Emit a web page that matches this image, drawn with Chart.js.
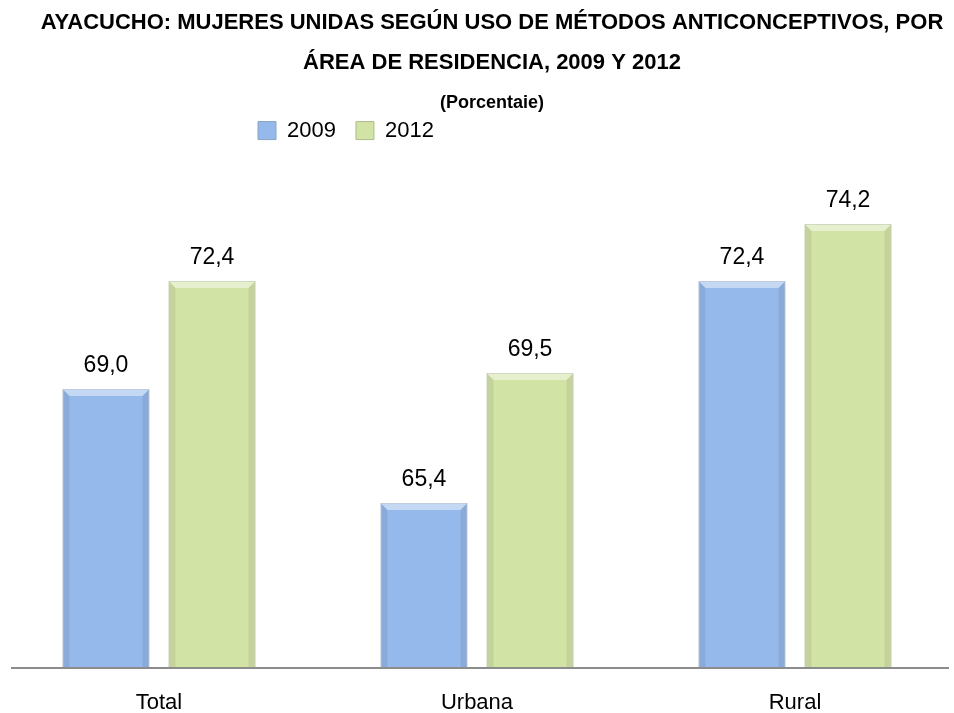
<!DOCTYPE html>
<html>
<head>
<meta charset="utf-8">
<script src="https://cdn.jsdelivr.net/npm/chart.js@4"></script>
<style>
  body { margin: 0; background: #fff; }
  #wrap { width: 954px; height: 713px; }
</style>
</head>
<body>
<div id="wrap"><canvas id="chart"></canvas></div>
<script>
const categories = ["Total", "Urbana", "Rural"];
const values2009 = [69.0, 65.4, 72.4];
const values2012 = [72.4, 69.5, 74.2];
const seriesNames = ["2009", "2012"];

// move title, subtitle and legend to where they sit in the original
const boxShift = {
  id: "boxShift",
  afterLayout(chart) {
    chart.boxes.forEach((b) => {
      if (b !== chart.legend && b.options && b.options.text !== undefined) {
        b.left += 15; b.right += 15;
      }
    });
    const l = chart.legend;
    l.left += 238; l.right += 238;
    l.top -= 14; l.bottom -= 14;
  }
};

// baseline that stops short of the edges
const baseLine = {
  id: "baseLine",
  afterDatasetsDraw(chart) {
    const c = chart.ctx, a = chart.chartArea;
    c.save();
    c.strokeStyle = "#8C8C8C";
    c.lineWidth = 2;
    c.beginPath();
    c.moveTo(11, a.bottom);
    c.lineTo(949, a.bottom);
    c.stroke();
    c.restore();
  }
};

// soft bevel on the bars
const bevel = {
  id: "bevel",
  afterDatasetsDraw(chart) {
    const c = chart.ctx, a = chart.chartArea;
    c.save();
    c.beginPath();
    c.rect(a.left, a.top, a.right - a.left, a.bottom - a.top);
    c.clip();
    chart.data.datasets.forEach((ds, i) => {
      chart.getDatasetMeta(i).data.forEach((bar) => {
        const l = bar.x - bar.width / 2, r = bar.x + bar.width / 2;
        const t = bar.y, b = Math.min(bar.base, a.bottom), d = 7;
        c.fillStyle = "rgba(255,255,255,0.45)";
        c.beginPath();
        c.moveTo(l, t); c.lineTo(r, t); c.lineTo(r - d, t + d); c.lineTo(l + d, t + d);
        c.closePath(); c.fill();
        c.fillStyle = "rgba(0,0,0,0.07)";
        c.beginPath();
        c.moveTo(l, t); c.lineTo(l + d, t + d); c.lineTo(l + d, b); c.lineTo(l, b);
        c.closePath(); c.fill();
        c.beginPath();
        c.moveTo(r, t); c.lineTo(r - d, t + d); c.lineTo(r - d, b); c.lineTo(r, b);
        c.closePath(); c.fill();
      });
    });
    c.restore();
  }
};

// value labels over the bars, with a decimal comma
const barLabels = {
  id: "barLabels",
  afterDatasetsDraw(chart) {
    const c = chart.ctx;
    c.save();
    c.font = "23px 'Liberation Sans'";
    c.fillStyle = "#000";
    c.textAlign = "center";
    c.textBaseline = "alphabetic";
    chart.data.datasets.forEach((ds, i) => {
      chart.getDatasetMeta(i).data.forEach((bar, j) => {
        c.fillText(ds.data[j].toFixed(1).replace(".", ","), bar.x, bar.y - 17);
      });
    });
    c.restore();
  }
};

const ctx = document.getElementById("chart");
new Chart(ctx, {
  type: "bar",
  data: {
    labels: categories,
    datasets: [
      {
        label: seriesNames[0],
        data: values2009,
        backgroundColor: "#95B9EA",
        borderColor: "#8AA3C4",
        borderWidth: 1,
        barPercentage: 0.82,
        categoryPercentage: 0.667,
      },
      {
        label: seriesNames[1],
        data: values2012,
        backgroundColor: "#D2E3A6",
        borderColor: "#AEBB8E",
        borderWidth: 1,
        barPercentage: 0.82,
        categoryPercentage: 0.667,
      },
    ],
  },
  options: {
    responsive: true,
    maintainAspectRatio: false,
    animation: false,
    layout: { padding: { left: 0, right: 0, top: 0, bottom: -25 } },
    scales: {
      y: { display: false, min: 60.2, max: 76.04 },
      x: {
        grid: { display: false, drawTicks: false },
        border: { display: false },
        ticks: {
          color: "#000",
          padding: 24,
          font: { family: "'Liberation Sans'", size: 22, lineHeight: 1 },
        },
      },
    },
    plugins: {
      title: {
        display: true,
        text: [
          "AYACUCHO: MUJERES UNIDAS SEGÚN USO DE MÉTODOS ANTICONCEPTIVOS, POR",
          "ÁREA DE RESIDENCIA, 2009 Y 2012",
        ],
        color: "#000",
        padding: { top: 3, bottom: 0 },
        font: { family: "'Liberation Sans'", size: 22, weight: "bold", lineHeight: 1.818 },
      },
      subtitle: {
        display: true,
        text: "(Porcentaie)",
        color: "#000",
        padding: { top: 9, bottom: 0 },
        font: { family: "'Liberation Sans'", size: 18, weight: "bold", lineHeight: 1.2 },
      },
      legend: {
        position: "top",
        align: "start",
        labels: {
          color: "#000",
          boxWidth: 18,
          boxHeight: 18,
          padding: 20,
          font: { family: "'Liberation Sans'", size: 22 },
        },
      },
      tooltip: { enabled: false },
    },
  },
  plugins: [boxShift, bevel, baseLine, barLabels],
});
</script>
</body>
</html>
